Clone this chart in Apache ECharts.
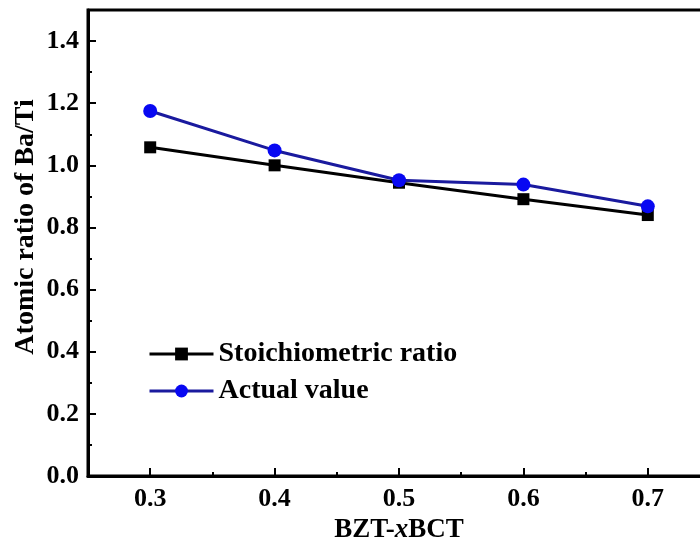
<!DOCTYPE html>
<html>
<head>
<meta charset="utf-8">
<script src="https://cdn.jsdelivr.net/npm/echarts@6/dist/echarts.min.js"></script>
<style>
  html, body { margin: 0; padding: 0; background: #fff; }
  #chart { width: 700px; height: 550px; }
</style>
</head>
<body>
<div id="chart"></div>
<script>
// Composition x of BZT-xBCT and the Ba/Ti atomic ratio at each point
const xValues = [0.3, 0.4, 0.5, 0.6, 0.7];
const stoichiometric = [1.058, 1.000, 0.944, 0.891, 0.840];
const actual = [1.175, 1.048, 0.952, 0.938, 0.868];
const seriesNames = ['Stoichiometric ratio', 'Actual value'];

// Tick positions
const xMajorTicks = [0.3, 0.4, 0.5, 0.6, 0.7];
const xMinorTicks = [0.35, 0.45, 0.55, 0.65];
const yMajorTicks = [0, 0.2, 0.4, 0.6, 0.8, 1.0, 1.2, 1.4];
const yMinorTicks = [0.1, 0.3, 0.5, 0.7, 0.9, 1.1, 1.3];

const FONT = '"Liberation Serif", "Times New Roman", serif';
// plot box runs past the right edge of the canvas
const gridRect = { left: 88, top: 10, width: 622, bottom: 74, outerBoundsMode: 'none', containLabel: false };

const pairs = (xs, ys) => xs.map((x, i) => [x, ys[i]]);

const chart = echarts.init(document.getElementById('chart'), null, { renderer: 'canvas' });

chart.setOption({
  backgroundColor: '#fff',
  animation: false,
  grid: [
    Object.assign({ show: true, borderColor: '#000', borderWidth: 3, backgroundColor: 'transparent' }, gridRect),
    Object.assign({}, gridRect)
  ],
  legend: {
    orient: 'vertical',
    left: 143,
    top: 335,
    itemWidth: 64,
    itemHeight: 16,
    itemGap: 9,
    data: seriesNames,
    lineStyle: { width: 3 },
    textStyle: { fontFamily: FONT, fontWeight: 'bold', fontSize: 28, color: '#000' }
  },
  xAxis: [
    {
      type: 'value', gridIndex: 0, position: 'bottom',
      min: 0.25, max: 0.75,
      name: 'BZT-{i|x}BCT', nameLocation: 'middle', nameGap: 39,
      nameTextStyle: {
        fontFamily: FONT, fontWeight: 'bold', fontSize: 27, color: '#000',
        rich: { i: { fontFamily: FONT, fontWeight: 'bold', fontStyle: 'italic', fontSize: 27, color: '#000' } }
      },
      axisLine: { show: true, onZero: false, lineStyle: { color: '#000', width: 3 } },
      axisTick: { show: true, inside: true, length: 8, customValues: xMajorTicks, lineStyle: { color: '#000', width: 2 } },
      axisLabel: {
        customValues: xMajorTicks, margin: 10,
        formatter: v => v.toFixed(1),
        fontFamily: FONT, fontWeight: 'bold', fontSize: 26, color: '#000'
      },
      splitLine: { show: false }
    },
    {
      type: 'value', gridIndex: 1, position: 'bottom',
      min: 0.25, max: 0.75,
      axisLine: { show: false },
      axisTick: { show: true, inside: true, length: 4, customValues: xMinorTicks, lineStyle: { color: '#000', width: 2 } },
      axisLabel: { show: false },
      splitLine: { show: false }
    }
  ],
  yAxis: [
    {
      type: 'value', gridIndex: 0, position: 'left',
      min: 0, max: 1.5, interval: 0.2,
      name: 'Atomic ratio of Ba/Ti', nameLocation: 'middle', nameGap: 48, nameRotate: 90,
      nameMoveOverlap: false,
      nameTextStyle: { fontFamily: FONT, fontWeight: 'bold', fontSize: 28, color: '#000', padding: [0, 0, 0, 32] },
      axisLine: { show: true, onZero: false, lineStyle: { color: '#000', width: 3 } },
      axisTick: { show: true, inside: true, length: 8, customValues: yMajorTicks, lineStyle: { color: '#000', width: 2 } },
      axisLabel: {
        customValues: yMajorTicks, margin: 9,
        formatter: v => v.toFixed(1),
        fontFamily: FONT, fontWeight: 'bold', fontSize: 26, color: '#000'
      },
      splitLine: { show: false }
    },
    {
      type: 'value', gridIndex: 1, position: 'left',
      min: 0, max: 1.5,
      axisLine: { show: false },
      axisTick: { show: true, inside: true, length: 4, customValues: yMinorTicks, lineStyle: { color: '#000', width: 2 } },
      axisLabel: { show: false },
      splitLine: { show: false }
    }
  ],
  series: [
    {
      name: seriesNames[0], type: 'line', xAxisIndex: 0, yAxisIndex: 0,
      data: pairs(xValues, stoichiometric),
      symbol: 'rect', symbolSize: 12,
      lineStyle: { color: '#000', width: 3 },
      itemStyle: { color: '#000' },
      z: 3
    },
    {
      name: seriesNames[1], type: 'line', xAxisIndex: 0, yAxisIndex: 0,
      data: pairs(xValues, actual),
      symbol: 'circle', symbolSize: 14,
      lineStyle: { color: '#1a1a9e', width: 3 },
      itemStyle: { color: '#0808f2' },
      z: 4
    }
  ]
});
</script>
</body>
</html>
